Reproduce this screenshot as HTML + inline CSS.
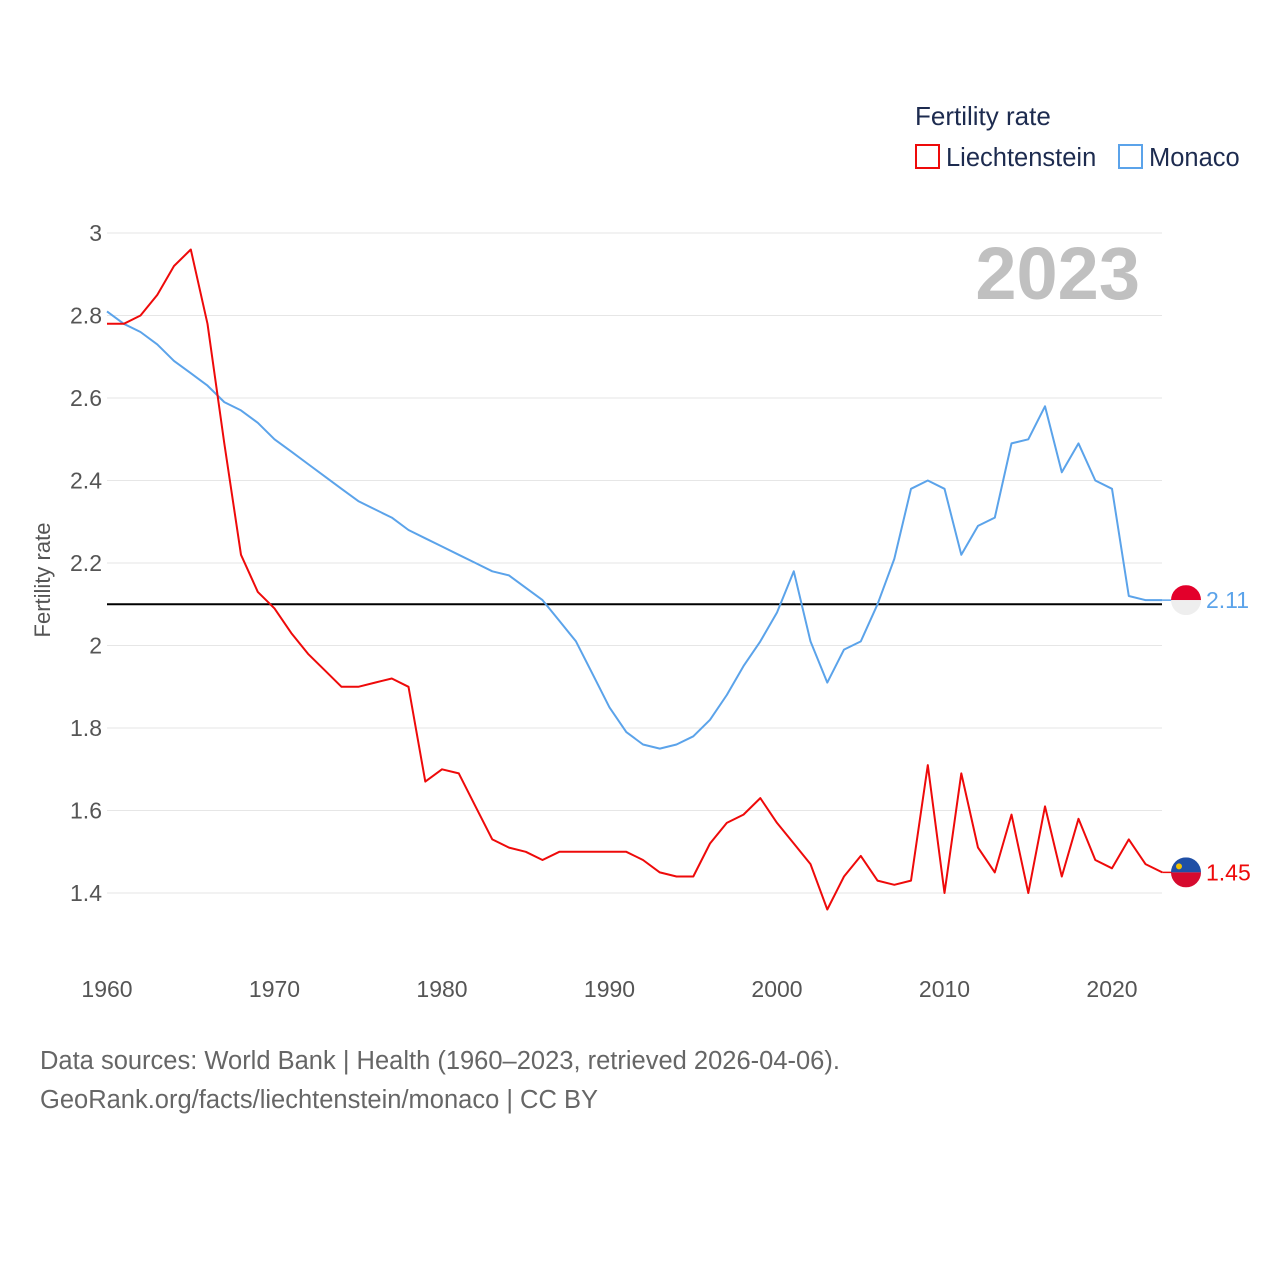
<!DOCTYPE html>
<html><head><meta charset="utf-8">
<style>
html,body{margin:0;padding:0;background:#fff;}
body{width:1280px;height:1280px;overflow:hidden;font-family:"Liberation Sans",sans-serif;}
svg text{font-family:"Liberation Sans",sans-serif;}
</style></head>
<body>
<svg id="chart" width="1280" height="1280">
  <text x="915" y="125" font-size="26" fill="#1d2b4f">Fertility rate</text>
  <g>
    <rect x="916" y="145" width="23" height="23" fill="none" stroke="#ee0a0a" stroke-width="2"/>
    <text x="946" y="166" font-size="25.5" fill="#1d2b4f">Liechtenstein</text>
  </g>
  <g>
    <rect x="1119" y="145" width="23" height="23" fill="none" stroke="#5ba3ea" stroke-width="2"/>
    <text x="1149" y="166" font-size="25.5" fill="#1d2b4f">Monaco</text>
  </g>
  <text x="1140" y="299" font-size="74" font-weight="bold" fill="#c0c0c0" text-anchor="end">2023</text>
  <text transform="translate(50,580) rotate(-90)" font-size="22" fill="#555" text-anchor="middle">Fertility rate</text>
  <g id="grid"></g>
  <g id="xticks"></g>
  <g id="series"></g>
  <text x="40" y="1069" font-size="25.5" fill="#666">Data sources: World Bank | Health (1960–2023, retrieved 2026-04-06).</text>
  <text x="40" y="1108" font-size="25.5" fill="#666">GeoRank.org/facts/liechtenstein/monaco | CC BY</text>
</svg>
<script>
const years = [];
for (let y = 1960; y <= 2023; y++) years.push(y);
const yTicks = [1.4,1.6,1.8,2,2.2,2.4,2.6,2.8,3];
const xTicks = [1960,1970,1980,1990,2000,2010,2020];
const liechtenstein = [2.78,2.78,2.80,2.85,2.92,2.96,2.78,2.49,2.22,2.13,2.09,2.03,1.98,1.94,1.90,1.90,1.91,1.92,1.90,1.67,1.70,1.69,1.61,1.53,1.51,1.50,1.48,1.50,1.50,1.50,1.50,1.50,1.48,1.45,1.44,1.44,1.52,1.57,1.59,1.63,1.57,1.52,1.47,1.36,1.44,1.49,1.43,1.42,1.43,1.71,1.40,1.69,1.51,1.45,1.59,1.40,1.61,1.44,1.58,1.48,1.46,1.53,1.47,1.45];
const monaco = [2.81,2.78,2.76,2.73,2.69,2.66,2.63,2.59,2.57,2.54,2.50,2.47,2.44,2.41,2.38,2.35,2.33,2.31,2.28,2.26,2.24,2.22,2.20,2.18,2.17,2.14,2.11,2.06,2.01,1.93,1.85,1.79,1.76,1.75,1.76,1.78,1.82,1.88,1.95,2.01,2.08,2.18,2.01,1.91,1.99,2.01,2.10,2.21,2.38,2.40,2.38,2.22,2.29,2.31,2.49,2.50,2.58,2.42,2.49,2.40,2.38,2.12,2.11,2.11];
const refLine = 2.1;

const NS = "http://www.w3.org/2000/svg";
const X = yr => 107 + (yr - 1960) * (1005 / 60);
const Y = v => 233 + (3 - v) * 412.5;
function mk(tag, attrs, parent){const e=document.createElementNS(NS,tag);for(const k in attrs)e.setAttribute(k,attrs[k]);parent.appendChild(e);return e;}

const grid = document.getElementById('grid');
yTicks.forEach(t => {
  const l = mk('line',{x1:107,x2:1162,y1:Y(t),y2:Y(t),stroke:'#e6e6e6','stroke-width':1},grid);
  
  
  const tx = mk('text',{x:102,y:Y(t)+8,'font-size':23,fill:'#555','text-anchor':'end'},grid);
  tx.textContent = String(t);
  
  
});
const xt = document.getElementById('xticks');
xTicks.forEach(t => {
  const tx = mk('text',{x:X(t),y:997,'font-size':23,fill:'#555','text-anchor':'middle'},xt);
  tx.textContent = String(t);
  
  
});

const s = document.getElementById('series');
const ref = mk('line',{x1:107,x2:1162,y1:Y(refLine),y2:Y(refLine),stroke:'#000','stroke-width':2},s);



function drawLine(vals,color,name){
  const d = vals.map((v,i)=>(i?'L':'M')+X(years[i]).toFixed(1)+','+Y(v).toFixed(1)).join(' ');
  const p = mk('path',{d:d,fill:'none',stroke:color,'stroke-width':2,'stroke-linejoin':'round'},s);
  
  
}
drawLine(monaco,'#5ba3ea','monaco');
drawLine(liechtenstein,'#ee0a0a','liechtenstein');

function endMarker(vals,color,name,flag){
  const v = vals[vals.length-1];
  const cx = 1186, cy = Y(v);
  mk('line',{x1:X(years[years.length-1]),x2:cx-14,y1:cy,y2:cy,stroke:color,'stroke-width':1.5},s);
  const g = mk('g',{},s);
  
  
  const cp = name+'clip';
  const c = mk('clipPath',{id:cp},g); mk('circle',{cx:cx,cy:cy,r:15},c);
  mk('rect',{x:cx-15,y:cy-15,width:30,height:15,fill:flag[0],'clip-path':'url(#'+cp+')'},g);
  mk('rect',{x:cx-15,y:cy,width:30,height:15,fill:flag[1],'clip-path':'url(#'+cp+')'},g);
  if(name==='liechtenstein') mk('circle',{cx:cx-7,cy:cy-6,r:3,fill:'#f2c200'},g);
  const t = mk('text',{x:1206,y:cy+8,'font-size':23,fill:color},s);
  t.textContent = v.toFixed(2);
  
  
}
endMarker(monaco,'#5ba3ea','monaco',['#e3002b','#eeeeee']);
endMarker(liechtenstein,'#ee0a0a','liechtenstein',['#1f4fa6','#d60a2e']);
</script>
</body></html>
